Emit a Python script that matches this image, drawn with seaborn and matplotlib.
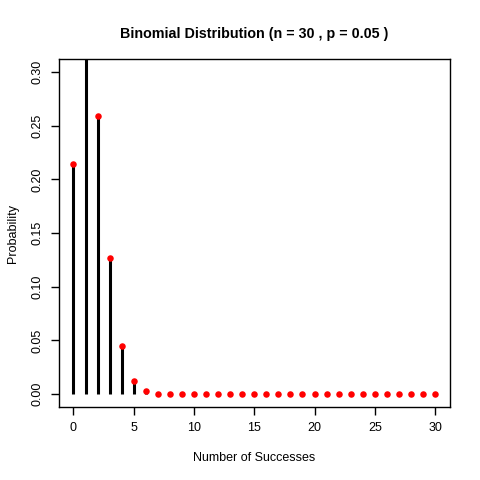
import matplotlib
matplotlib.use('Agg')

import matplotlib.pyplot as plt
import seaborn as sns
import pandas as pd

# --- Data ---
successes = list(range(31))
probabilities = [0.2146, 0.3389, 0.2586, 0.1270, 0.0451, 0.0124, 0.0027, 0.0005,
                 0.0001, 0.0000, 0.0000, 0.0000, 0.0000, 0.0000, 0.0000, 0.0000,
                 0.0000, 0.0000, 0.0000, 0.0000, 0.0000, 0.0000, 0.0000, 0.0000,
                 0.0000, 0.0000, 0.0000, 0.0000, 0.0000, 0.0000, 0.0000]
x_ticks = [0, 5, 10, 15, 20, 25, 30]
y_ticks = [0.00, 0.05, 0.10, 0.15, 0.20, 0.25, 0.30]

df = pd.DataFrame({'k': successes, 'p': probabilities})

sns.set_theme(style="white")
plt.rcParams['font.family'] = ['Liberation Sans', 'DejaVu Sans']
plt.rcParams['text.color'] = 'black'
plt.rcParams['axes.labelcolor'] = 'black'

fig = plt.figure(figsize=(4.8, 4.8), dpi=100)
ax = fig.add_axes([0.1229, 0.152, 0.8136, 0.725])

# spikes + red tops
ax.vlines(df['k'], 0, df['p'], color='black', linewidth=2.2, zorder=2)
sns.scatterplot(data=df, x='k', y='p', ax=ax, color='red', s=22,
                edgecolor='red', linewidth=0, zorder=3, clip_on=True)

ax.set_xlim(-1.2, 31.2)
ax.set_ylim(-0.012, 0.312)
ax.set_xticks(x_ticks)
ax.set_xticklabels([str(v) for v in x_ticks])
ax.set_yticks(y_ticks)
ax.set_yticklabels([f"{v:.2f}" for v in y_ticks], rotation=90, va='center')

for s in ax.spines.values():
    s.set_color('black')
    s.set_linewidth(1.0)

ax.tick_params(axis='both', direction='out', length=6, width=1, color='black',
               labelsize=9, labelcolor='black', pad=5)
ax.tick_params(bottom=True, left=True)

ax.set_xlabel("Number of Successes", fontsize=9, labelpad=13, color='black')
ax.set_ylabel("Probability", fontsize=9, labelpad=9, color='black')
ax.set_title("Binomial Distribution (n = 30 , p = 0.05 )", fontsize=10.3,
             fontweight='bold', pad=15, color='black')

fig.savefig("out.png", dpi=100)
